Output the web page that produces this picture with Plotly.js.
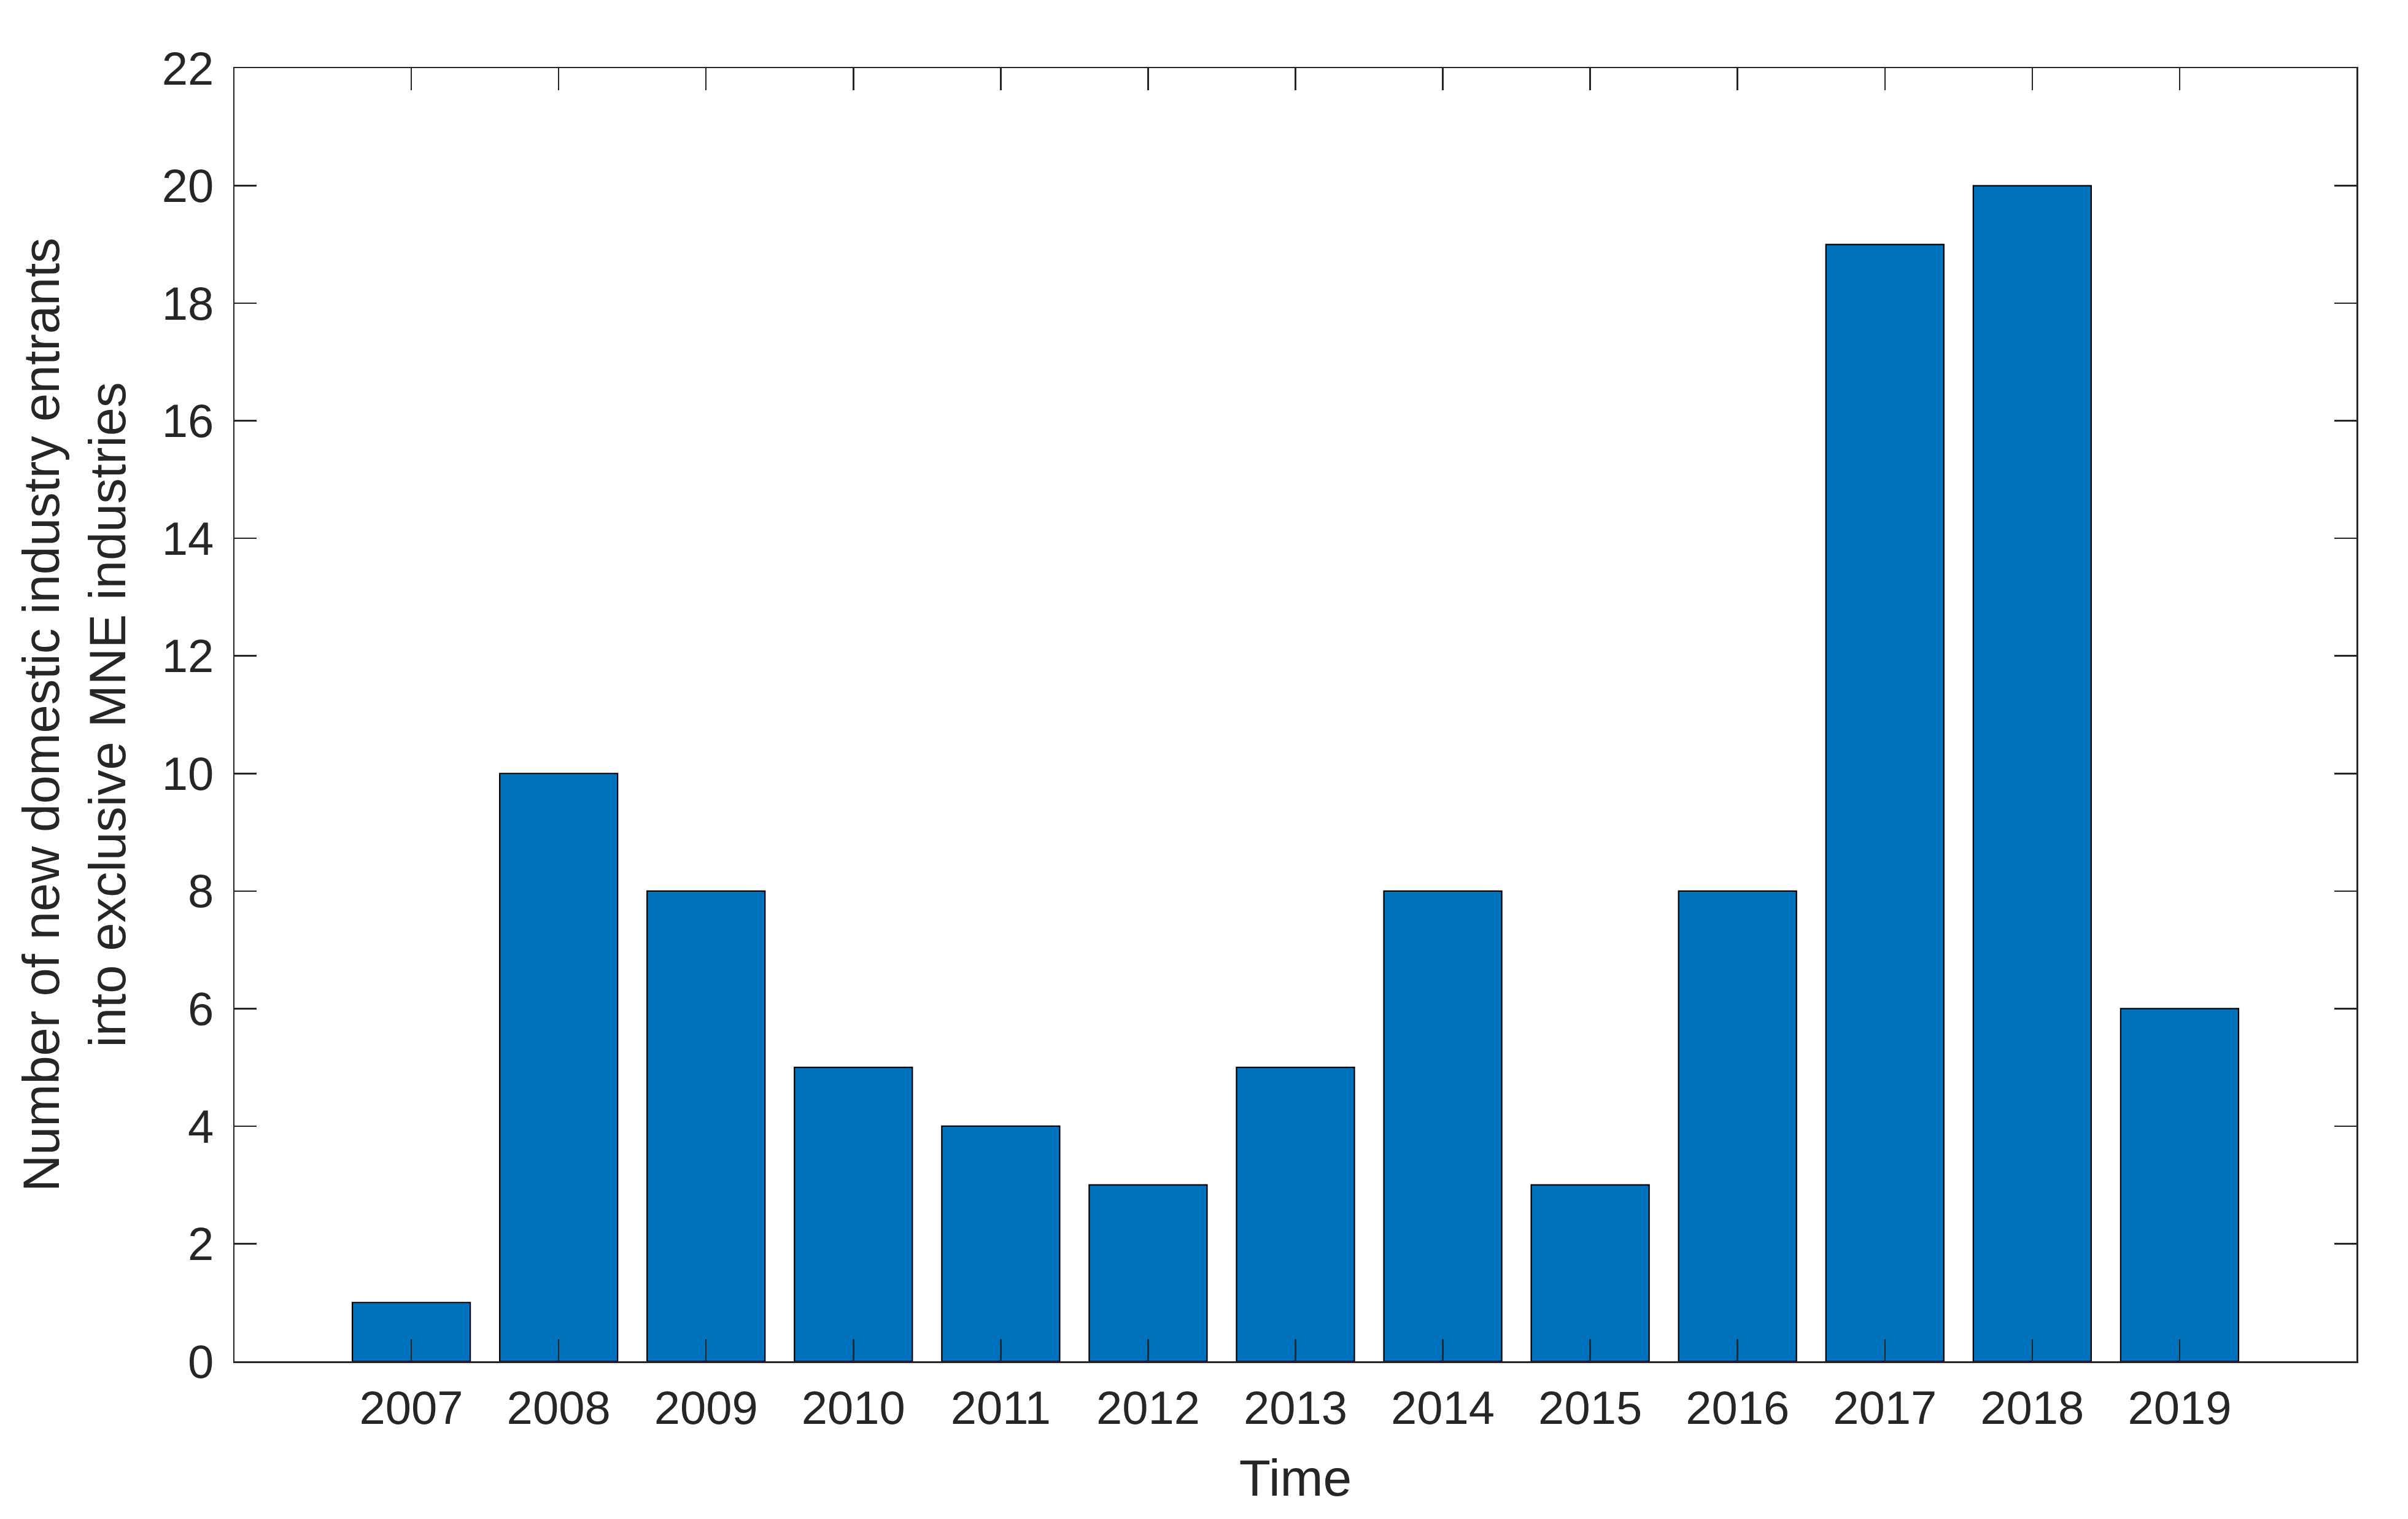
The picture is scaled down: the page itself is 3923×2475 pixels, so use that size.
<!DOCTYPE html>
<html>
<head>
<meta charset="utf-8">
<script src="https://cdn.plot.ly/plotly-3.0.1.min.js"></script>
<style>
  html, body { margin: 0; padding: 0; background: #fff; }
</style>
</head>
<body>
<div id="chart"></div>
<script>
  // data
  var years = [2007, 2008, 2009, 2010, 2011, 2012, 2013, 2014, 2015, 2016, 2017, 2018, 2019];
  var entrants = [1, 10, 8, 5, 4, 3, 5, 8, 3, 8, 19, 20, 6];
  var yTicks = [0, 2, 4, 6, 8, 10, 12, 14, 16, 18, 20, 22];

  var axisColor = '#262626';
  var fontFamily = '"Liberation Sans", Arial, sans-serif';

  var trace = {
    x: years,
    y: entrants,
    type: 'bar',
    width: 0.8,
    marker: {
      color: '#0072BD',
      line: { color: '#000000', width: 2.2 }
    },
    hoverinfo: 'x+y'
  };

  var layout = {
    width: 3923,
    height: 2475,
    margin: { l: 382, r: 84, t: 111, b: 257 },
    paper_bgcolor: '#ffffff',
    plot_bgcolor: '#ffffff',
    showlegend: false,
    font: { family: fontFamily, color: axisColor, size: 76 },
    xaxis: {
      range: [2005.8, 2020.2],
      tickvals: years,
      ticktext: years.map(String),
      ticks: 'inside',
      ticklen: 36,
      tickwidth: 2.5,
      tickcolor: axisColor,
      ticklabelstandoff: 8,
      showline: true,
      linecolor: axisColor,
      linewidth: 2.5,
      mirror: 'ticks',
      showgrid: false,
      zeroline: false,
      tickfont: { size: 76, color: axisColor },
      title: { text: 'Time', font: { size: 84, color: axisColor }, standoff: 44 }
    },
    yaxis: {
      range: [0, 22],
      tickvals: yTicks,
      ticks: 'inside',
      ticklen: 36,
      tickwidth: 2.5,
      tickcolor: axisColor,
      ticklabelstandoff: 16,
      showline: true,
      linecolor: axisColor,
      linewidth: 2.5,
      mirror: 'ticks',
      showgrid: false,
      zeroline: false,
      tickfont: { size: 76, color: axisColor },
      title: {
        text: 'Number of new domestic industry entrants<br>into exclusive MNE industries',
        font: { size: 83, color: axisColor },
        standoff: 32
      }
    }
  };

  Plotly.newPlot('chart', [trace], layout, { staticPlot: true, displayModeBar: false });
</script>
</body>
</html>
